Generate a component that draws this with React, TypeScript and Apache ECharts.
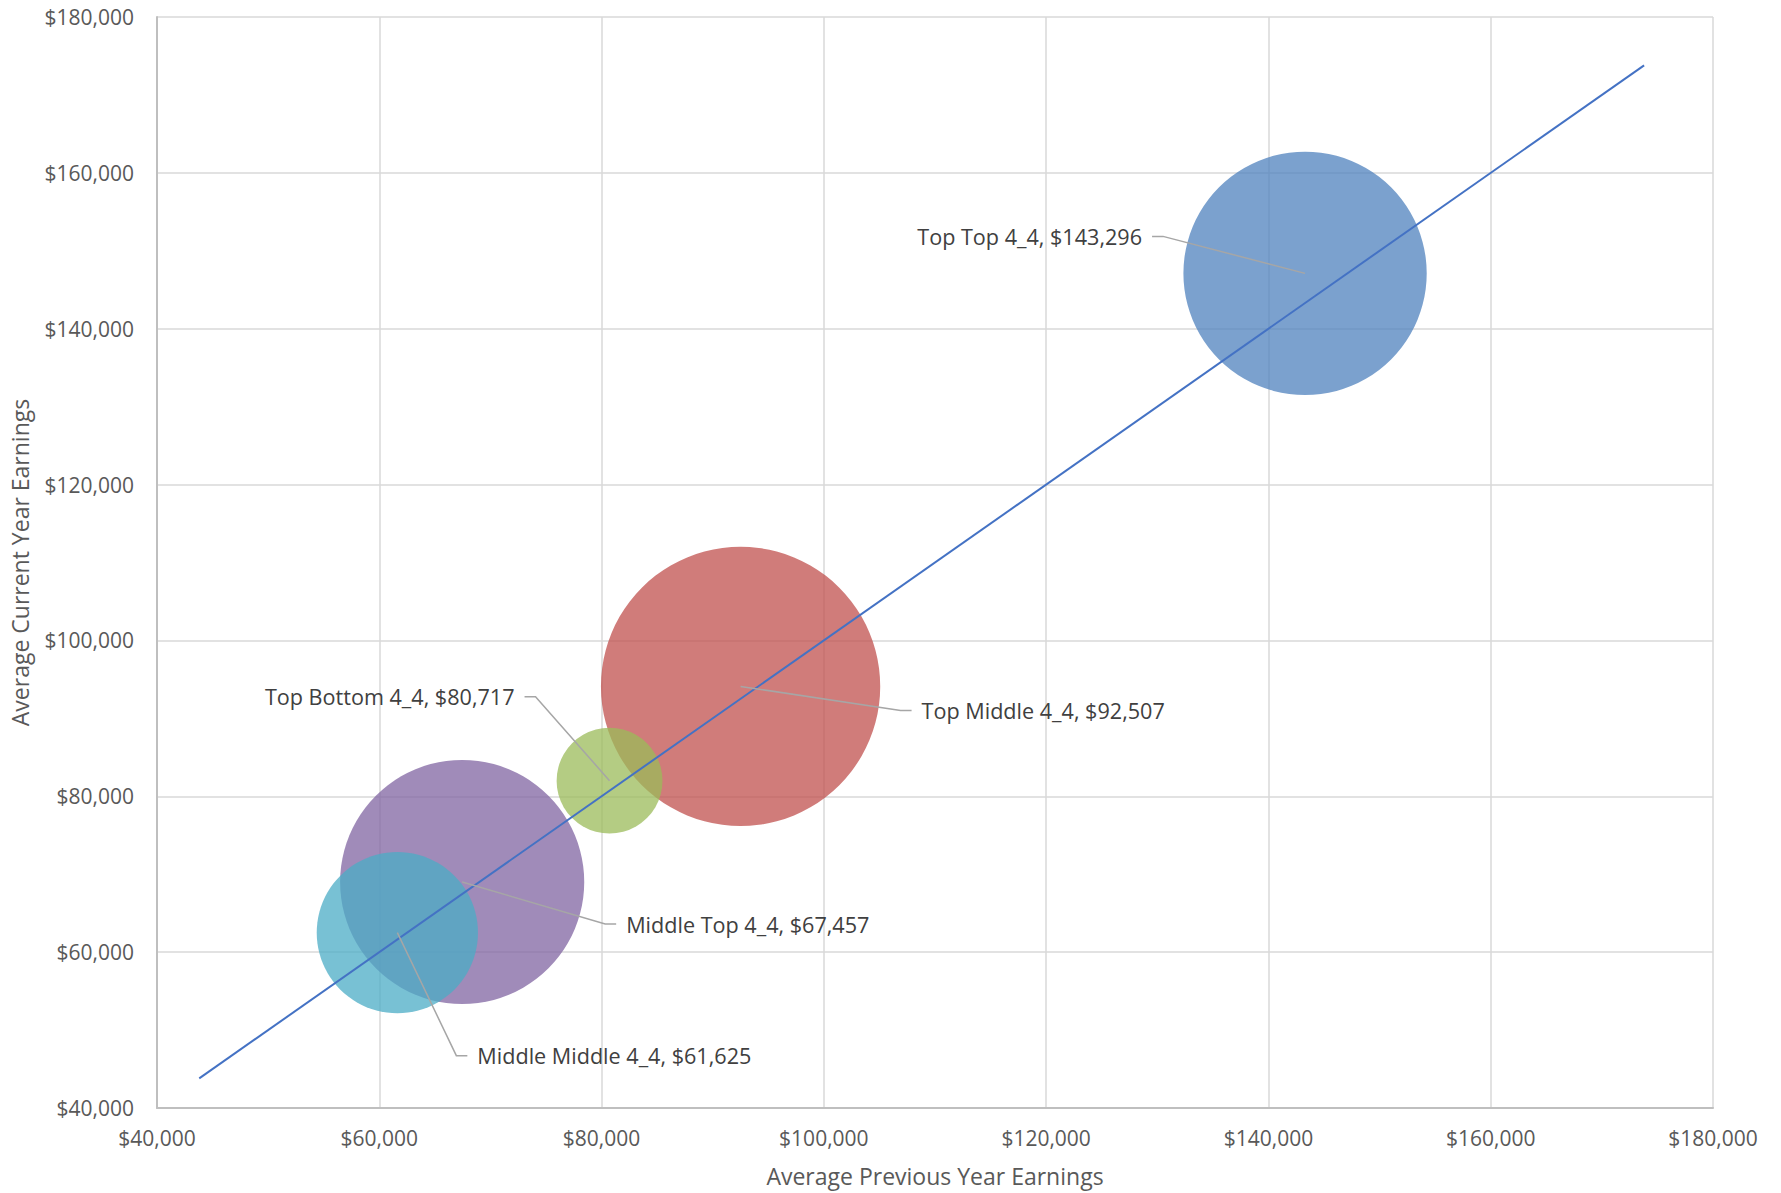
import React, { useEffect, useRef } from "react";
import * as echarts from "echarts";

// Bubble groups: name, previous-year average (x), current-year average (y), bubble weight
const groupNames = ["Top Top 4_4", "Top Middle 4_4", "Top Bottom 4_4", "Middle Top 4_4", "Middle Middle 4_4"];
const previousYear = [143296, 92507, 80717, 67457, 61625];
const currentYear = [147100, 94100, 82000, 69000, 62500];
const bubbleWeight = [148, 195, 28, 149, 65];
const bubbleColors = ["#4F81BD", "#C0504D", "#9BBB59", "#8064A2", "#4BACC6"];

// Reference diagonal (current = previous)
const diagonalX = [43800, 173800];
const diagonalY = [43800, 173800];

// Axis ticks
const axisMin = 40000;
const axisMax = 180000;
const axisStep = 20000;

// Leader-line layout for each label, in pixels relative to the bubble centre
const labelLayout = [
  { dx: -142, dy: -37, side: -1 },
  { dx: 160, dy: 24, side: 1 },
  { dx: -74, dy: -84, side: -1 },
  { dx: 143, dy: 42, side: 1 },
  { dx: 59, dy: 123, side: 1 },
];

const FONT = "'Open Sans', 'Noto Sans', sans-serif";
const money = (v: number) => "$" + v.toLocaleString("en-US");

export default function App() {
  const ref = useRef<HTMLDivElement>(null);

  useEffect(() => {
    if (!ref.current) return;
    const chart = echarts.init(ref.current, null, { renderer: "svg" });

    const bubbleData = groupNames.map((name, i) => ({
      name,
      value: [previousYear[i], currentYear[i], bubbleWeight[i]],
      itemStyle: { color: bubbleColors[i], opacity: 0.75 },
    }));

    const labelData = groupNames.map((name, i) => ({
      name,
      value: [previousYear[i], currentYear[i]],
    }));

    const axisCommon = {
      type: "value" as const,
      min: axisMin,
      max: axisMax,
      interval: axisStep,
      nameLocation: "middle" as const,
      nameTextStyle: { color: "#595959", fontSize: 23, fontFamily: FONT },
      axisLine: { show: true, lineStyle: { color: "#BFBFBF", width: 2 } },
      axisTick: { show: false },
      splitLine: { show: true, lineStyle: { color: "#D9D9D9", width: 1.5 } },
      axisLabel: {
        color: "#595959",
        fontSize: 21,
        fontFamily: FONT,
        formatter: (v: number) => money(v),
      },
    };

    chart.setOption({
      animation: false,
      backgroundColor: "#FFFFFF",
      grid: { left: 157, top: 17, right: 68, bottom: 85 },
      xAxis: {
        ...axisCommon,
        name: "Average Previous Year Earnings",
        nameGap: 56,
        axisLabel: { ...axisCommon.axisLabel, margin: 19 },
      },
      yAxis: {
        ...axisCommon,
        name: "Average Current Year Earnings",
        nameGap: 126,
        axisLabel: { ...axisCommon.axisLabel, margin: 23 },
      },
      series: [
        {
          type: "scatter",
          z: 2,
          data: bubbleData,
          symbolSize: (val: number[]) => 20 * Math.sqrt(val[2]),
          silent: true,
        },
        {
          type: "line",
          z: 3,
          data: diagonalX.map((x, i) => [x, diagonalY[i]]),
          showSymbol: false,
          lineStyle: { color: "#4472C4", width: 2 },
          silent: true,
        },
        {
          type: "custom",
          z: 4,
          clip: false,
          silent: true,
          data: labelData,
          encode: { x: 0, y: 1 },
          renderItem: (params: any, api: any) => {
            const i = params.dataIndex;
            const c = api.coord([api.value(0), api.value(1)]);
            const l = labelLayout[i];
            const ex = c[0] + l.dx;
            const ey = c[1] + l.dy;
            const sx = ex + l.side * 11;
            const tx = sx + l.side * 10;
            return {
              type: "group",
              children: [
                {
                  type: "polyline",
                  shape: { points: [c, [ex, ey], [sx, ey]] },
                  style: { stroke: "#A6A6A6", lineWidth: 1.5, fill: null },
                },
                {
                  type: "text",
                  style: {
                    text: groupNames[i] + ", " + money(previousYear[i]),
                    x: tx,
                    y: ey,
                    align: l.side < 0 ? "right" : "left",
                    verticalAlign: "middle",
                    fill: "#404040",
                    fontSize: 21.6,
                    fontFamily: FONT,
                  },
                },
              ],
            };
          },
        },
      ],
    });

    return () => chart.dispose();
  }, []);

  return (
    <div
      ref={ref}
      style={{ position: "fixed", left: 0, top: 0, width: 1781, height: 1193 }}
    />
  );
}
